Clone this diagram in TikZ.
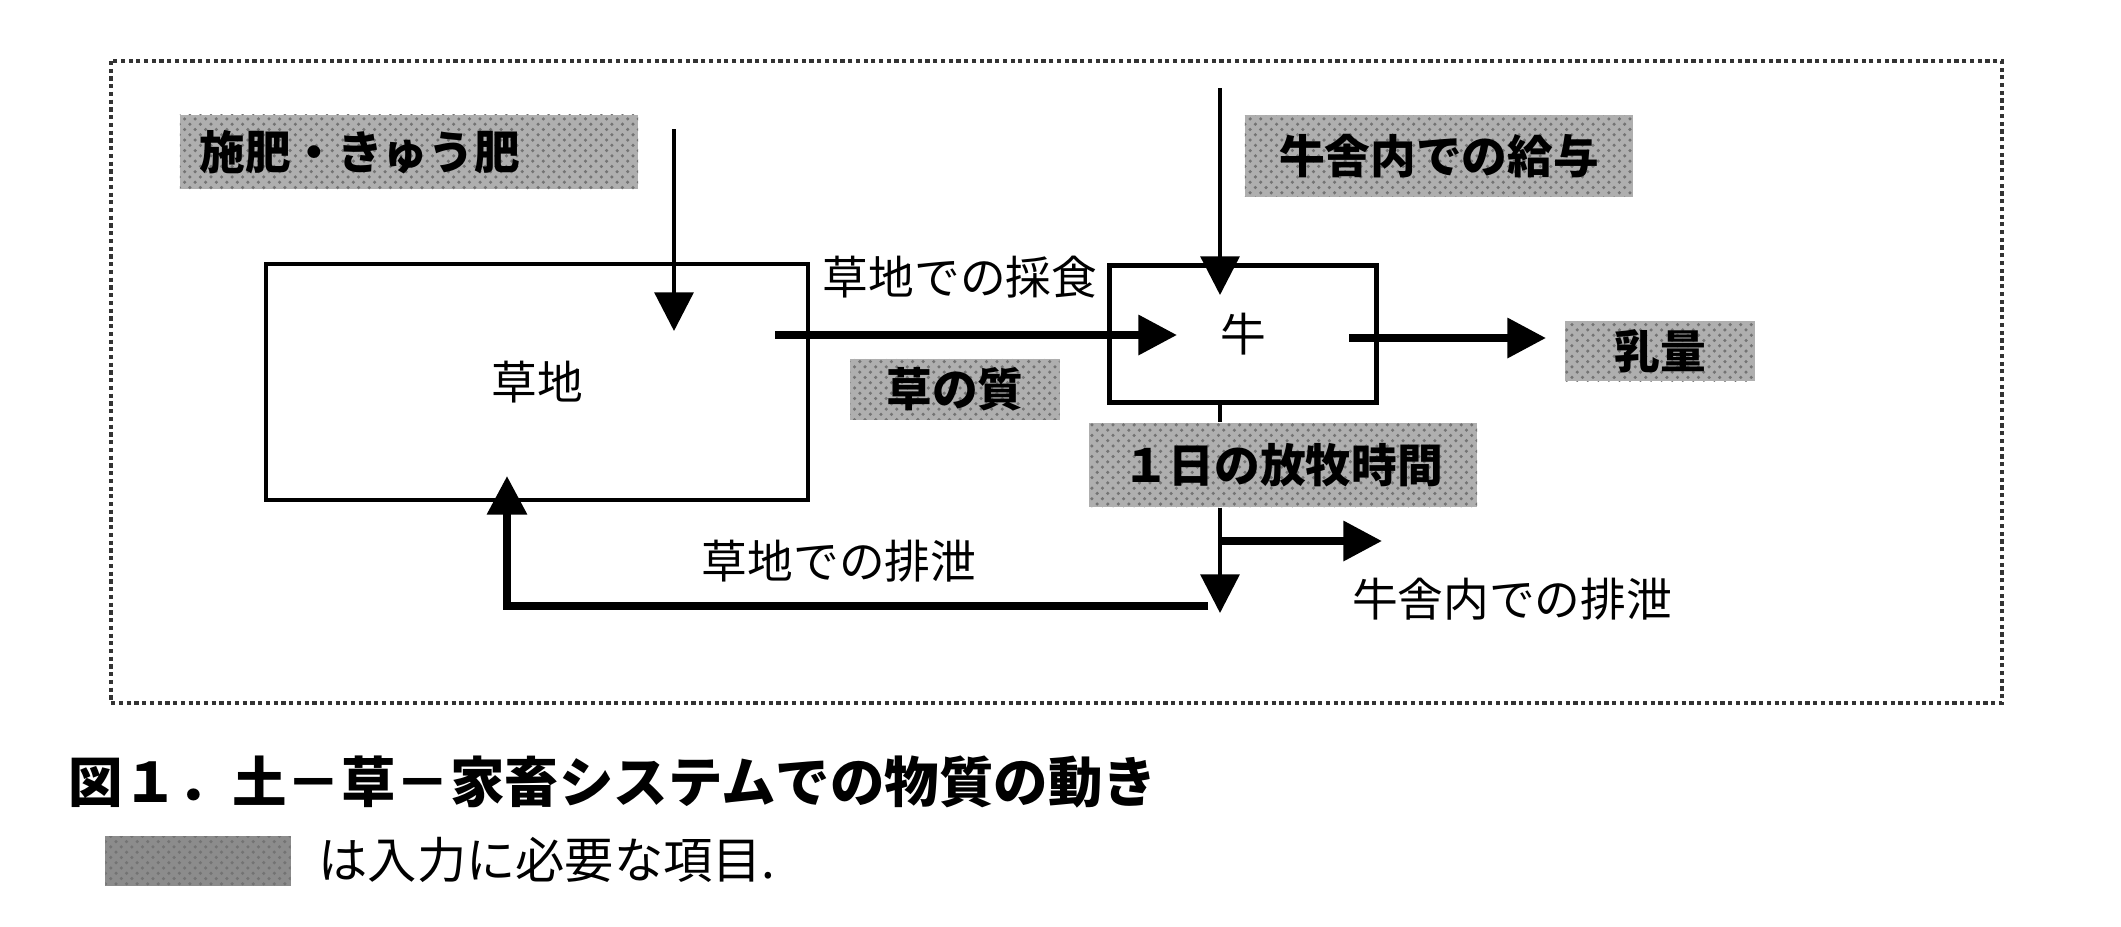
\documentclass[tikz,border=0pt]{standalone}
\usepackage{fontspec}
\setmainfont{Noto Sans CJK JP}
\usepackage{tikz}
\usetikzlibrary{arrows.meta}
\usetikzlibrary{patterns}
\definecolor{dotgray}{RGB}{175,175,175}

\tikzset{
  stockbox/.style={draw, line width=1.3pt, inner sep=0pt, font=\fontsize{13}{15}\selectfont},
  inputbox/.style={fill=dotgray, inner sep=0pt, font=\fontsize{13}{15}\selectfont\bfseries,
                   postaction={pattern=crosshatch dots, pattern color=black!55}},
  flowtext/.style={inner sep=0pt, font=\fontsize{13}{15}\selectfont},
  thickflow/.style={line width=2.2pt, -{Triangle[length=11pt,width=11pt]}},
  thinflow/.style={line width=1.2pt, -{Triangle[length=11pt,width=11pt]}},
  thinline/.style={line width=1.2pt},
}

\begin{document}
\begin{tikzpicture}[x=0.01cm, y=-0.01cm]
    \useasboundingbox (0,0) rectangle (2121,926);
    \draw[densely dotted, line width=1.2pt, black!80] (111,61) rectangle (2002,703);

    % stocks
    \node[stockbox, minimum width=5.42cm, minimum height=2.36cm] (grass) at (537,382) {草地};
    \node[stockbox, minimum width=2.67cm, minimum height=1.37cm] (cow)   at (1243,334) {牛};

    % inputs
    \node[inputbox, text width=4.18cm, align=left, inner xsep=0.2cm, minimum height=0.74cm] (fert) at (409,152) {施肥・きゅう肥};
    \node[inputbox, minimum width=3.88cm, minimum height=0.81cm] (stallfeed) at (1439,156) {牛舎内での給与};
    \node[inputbox, minimum width=2.09cm, minimum height=0.61cm] (quality)   at (955,389)  {草の質};
    \node[inputbox, minimum width=1.89cm, minimum height=0.60cm] (milk)      at (1660,351) {乳量};
    \node[inputbox, minimum width=3.88cm, minimum height=0.84cm] (grazetime) at (1283,465) {１日の放牧時間};

    % flow labels
    \node[flowtext] (grazing)  at (960,277)  {草地での採食};
    \node[flowtext] (dunggrass) at (839,561) {草地での排泄};
    \node[flowtext] (dungbarn) at (1512,599) {牛舎内での排泄};

    % arrow ends
    \coordinate (fert top)   at (674,129);
    \coordinate (fert tip)   at (674,331);
    \coordinate (stall top)  at (1220,88);
    \coordinate (stall tip)  at (1220,295);
    \coordinate (graze from) at (775,335);
    \coordinate (graze tip)  at (1177,335);
    \coordinate (milk from)  at (1349,338);
    \coordinate (milk tip)   at (1546,338);
    \coordinate (split)      at (1220,541);
    \coordinate (barn tip)   at (1382,541);
    \coordinate (dung tip)   at (1220,613);
    \coordinate (back from)  at (1208,606);
    \coordinate (back tip)   at (507,476);

    \draw[thinflow]  (fert top) -- (fert tip);
    \draw[thinflow]  (stall top) -- (stall tip);
    \draw[thickflow] (graze from) -- (graze tip);
    \draw[thickflow] (milk from) -- (milk tip);
    \draw[thinline]  (cow.south -| stall top) -- (grazetime.north -| stall top);
    \draw[thinflow]  (grazetime.south -| stall top) -- (dung tip);
    \draw[thickflow] (split) -- (barn tip);
    \draw[thickflow] (back from) -| (back tip);

    % caption
    \node[anchor=west, inner sep=0pt, font=\fontsize{15.5}{18}\selectfont\bfseries] (caption) at (68,782)
        {図１．土－草－家畜システムでの物質の動き};
    \node[inputbox, minimum width=1.85cm, minimum height=0.50cm, fill=black!45] (legend) at (198,861) {};
    \node[anchor=west, inner sep=0pt, font=\fontsize{14}{16}\selectfont] (legendtext) at (318,860)
        {は入力に必要な項目.};
\end{tikzpicture}
\end{document}
